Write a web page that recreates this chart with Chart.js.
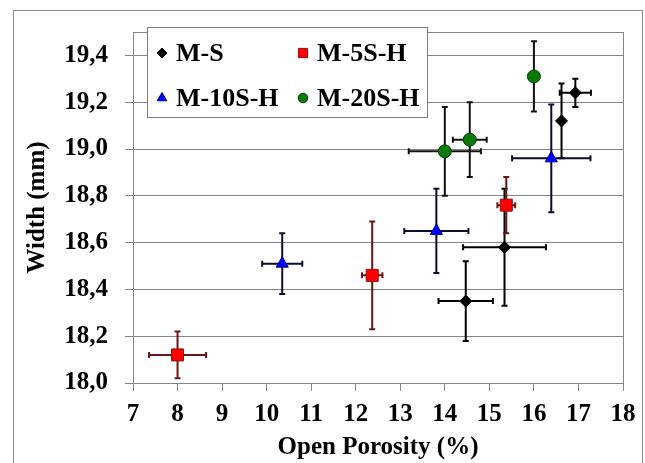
<!DOCTYPE html>
<html>
<head>
<meta charset="utf-8">
<title>Width vs Open Porosity</title>
<script src="https://cdn.jsdelivr.net/npm/chart.js@4/dist/chart.umd.min.js"></script>
<style>
    body { margin: 0; background: #fff; }
    canvas { display: block; }
</style>
</head>
<body>
<canvas id="chart" width="645" height="463"></canvas>
<script>
// Dados
const seriesNames = ['M-S', 'M-5S-H', 'M-10S-H', 'M-20S-H'];

const msPorosity = [14.47, 15.34, 16.62, 16.93];
const msWidth = [18.35, 18.58, 19.12, 19.24];
const msPorosityErr = [0.61, 0.93, 0.04, 0.35];
const msWidthErr = [0.17, 0.25, 0.16, 0.06];

const m5Porosity = [8.0, 12.37, 15.38];
const m5Width = [18.12, 18.46, 18.76];
const m5PorosityErr = [0.64, 0.23, 0.2];
const m5WidthErr = [0.1, 0.23, 0.12];

const m10Porosity = [10.35, 13.81, 16.39];
const m10Width = [18.51, 18.65, 18.96];
const m10PorosityErr = [0.45, 0.72, 0.88];
const m10WidthErr = [0.13, 0.18, 0.23];

const m20Porosity = [14.0, 14.56, 16.0];
const m20Width = [18.99, 19.04, 19.31];
const m20PorosityErr = [0.81, 0.38, 0.0];
const m20WidthErr = [0.19, 0.16, 0.15];

const xTickValues = [7, 8, 9, 10, 11, 12, 13, 14, 15, 16, 17, 18];
const yTickValues = [18.0, 18.2, 18.4, 18.6, 18.8, 19.0, 19.2, 19.4];

const FONT_FAMILY = '"Liberation Serif", "Times New Roman", serif';
const GRID_COLOR = '#858585';

function toPoints(xs, ys) {
    return xs.map((x, i) => ({ x: x, y: ys[i] }));
}

const datasets = [
    {
        label: seriesNames[0],
        data: toPoints(msPorosity, msWidth),
        xErr: msPorosityErr, yErr: msWidthErr, errColor: '#000000',
        pointStyle: 'rectRot', pointRadius: 6,
        backgroundColor: '#000000', borderColor: '#000000', borderWidth: 1
    },
    {
        label: seriesNames[1],
        data: toPoints(m5Porosity, m5Width),
        xErr: m5PorosityErr, yErr: m5WidthErr, errColor: '#6e1414',
        pointStyle: 'rect', pointRadius: 8.5,
        backgroundColor: '#ff0000', borderColor: '#8b1010', borderWidth: 1
    },
    {
        label: seriesNames[2],
        data: toPoints(m10Porosity, m10Width),
        xErr: m10PorosityErr, yErr: m10WidthErr, errColor: '#0c0c2c',
        pointStyle: 'triangle', pointRadius: 7,
        backgroundColor: '#0000ff', borderColor: '#00008b', borderWidth: 1
    },
    {
        label: seriesNames[3],
        data: toPoints(m20Porosity, m20Width),
        xErr: m20PorosityErr, yErr: m20WidthErr, errColor: '#111111',
        pointStyle: 'circle', pointRadius: 6.5,
        backgroundColor: '#0a7a0a', borderColor: '#004000', borderWidth: 1
    }
];

// Barras de erro desenhadas antes dos marcadores
const errorBarsPlugin = {
    id: 'errorBars',
    beforeDatasetsDraw(chart) {
        const ctx = chart.ctx;
        const xs = chart.scales.x;
        const ys = chart.scales.y;
        const cap = 3;
        ctx.save();
        ctx.lineWidth = 2;
        chart.data.datasets.forEach(ds => {
            ctx.strokeStyle = ds.errColor;
            ds.data.forEach((p, i) => {
                const px = xs.getPixelForValue(p.x);
                const py = ys.getPixelForValue(p.y);
                const dx = ds.xErr[i];
                const dy = ds.yErr[i];
                ctx.beginPath();
                if (dx > 0) {
                    const x1 = xs.getPixelForValue(p.x - dx);
                    const x2 = xs.getPixelForValue(p.x + dx);
                    ctx.moveTo(x1, py); ctx.lineTo(x2, py);
                    ctx.moveTo(x1, py - cap); ctx.lineTo(x1, py + cap);
                    ctx.moveTo(x2, py - cap); ctx.lineTo(x2, py + cap);
                }
                if (dy > 0) {
                    const y1 = ys.getPixelForValue(p.y - dy);
                    const y2 = ys.getPixelForValue(p.y + dy);
                    ctx.moveTo(px, y1); ctx.lineTo(px, y2);
                    ctx.moveTo(px - cap, y1); ctx.lineTo(px + cap, y1);
                    ctx.moveTo(px - cap, y2); ctx.lineTo(px + cap, y2);
                }
                ctx.stroke();
            });
        });
        ctx.restore();
    }
};

// Moldura externa, bordas da área do gráfico e legenda
const framePlugin = {
    id: 'frame',
    beforeDraw(chart) {
        const ctx = chart.ctx;
        ctx.save();
        ctx.fillStyle = '#ffffff';
        ctx.fillRect(0, 0, chart.width, chart.height);
        ctx.strokeStyle = '#8a8a8a';
        ctx.lineWidth = 1;
        ctx.strokeRect(13.5, 10.5, 629, 470);
        ctx.restore();
    },
    afterDraw(chart) {
        const ctx = chart.ctx;
        const a = chart.chartArea;
        ctx.save();
        ctx.strokeStyle = GRID_COLOR;
        ctx.lineWidth = 1;
        ctx.beginPath();
        ctx.moveTo(a.left, Math.round(a.top) + 0.5);
        ctx.lineTo(a.right, Math.round(a.top) + 0.5);
        ctx.moveTo(Math.round(a.right) + 0.5, a.top);
        ctx.lineTo(Math.round(a.right) + 0.5, a.bottom);
        ctx.stroke();

        // Legenda
        const box = { x: 147.5, y: 27.5, w: 280, h: 90 };
        ctx.fillStyle = '#ffffff';
        ctx.fillRect(box.x, box.y, box.w, box.h);
        ctx.strokeStyle = '#7a7a7a';
        ctx.strokeRect(box.x, box.y, box.w, box.h);

        const slots = [
            { mx: 162, tx: 176, y: 53 },
            { mx: 303, tx: 317, y: 53 },
            { mx: 162, tx: 176, y: 98 },
            { mx: 303, tx: 317, y: 98 }
        ];
        const legendRadius = { rectRot: 5, rect: 6.5, triangle: 5.5, circle: 4.8 };
        ctx.font = 'bold 26px ' + FONT_FAMILY;
        ctx.textBaseline = 'middle';
        ctx.textAlign = 'left';
        chart.data.datasets.forEach((ds, i) => {
            const s = slots[i];
            ctx.fillStyle = ds.backgroundColor;
            ctx.strokeStyle = ds.borderColor;
            ctx.lineWidth = 1;
            Chart.helpers.drawPoint(ctx, {
                pointStyle: ds.pointStyle,
                radius: legendRadius[ds.pointStyle],
                rotation: 0,
                borderWidth: 1
            }, s.mx, s.y);
            ctx.fillStyle = '#000000';
            ctx.fillText(ds.label, s.tx, s.y + 1);
        });
        ctx.restore();
    }
};

const ctx = document.getElementById('chart').getContext('2d');
window.porosityChart = new Chart(ctx, {
    type: 'scatter',
    data: { datasets: datasets },
    options: {
        responsive: false,
        animation: false,
        layout: { padding: { top: 28, right: 22, left: 0, bottom: 0 } },
        plugins: {
            legend: { display: false },
            tooltip: { enabled: false }
        },
        scales: {
            x: {
                type: 'linear',
                min: 7,
                max: 18,
                afterBuildTicks: function(scale) {
                    scale.ticks = xTickValues.map(v => ({ value: v }));
                },
                afterFit: function(scale) {
                    scale.height = 80;
                },
                ticks: {
                    color: '#000000',
                    font: { family: FONT_FAMILY, size: 25, weight: 'bold' },
                    padding: 9,
                    maxRotation: 0
                },
                grid: {
                    drawOnChartArea: false,
                    drawTicks: true,
                    tickLength: 8,
                    color: GRID_COLOR
                },
                border: { color: GRID_COLOR },
                title: {
                    display: true,
                    text: 'Open Porosity (%)',
                    color: '#000000',
                    font: { family: FONT_FAMILY, size: 25, weight: 'bold' },
                    padding: { top: 0, bottom: 0 }
                }
            },
            y: {
                type: 'linear',
                min: 18,
                max: 19.5,
                afterBuildTicks: function(scale) {
                    scale.ticks = yTickValues.map(v => ({ value: v }));
                },
                afterFit: function(scale) {
                    scale.width = 133;
                },
                ticks: {
                    color: '#000000',
                    font: { family: FONT_FAMILY, size: 25, weight: 'bold' },
                    padding: 17,
                    callback: function(value) {
                        return value.toFixed(1).replace('.', ',');
                    }
                },
                grid: {
                    drawTicks: true,
                    tickLength: 8,
                    color: GRID_COLOR
                },
                border: { color: GRID_COLOR },
                title: {
                    display: true,
                    text: 'Width (mm)',
                    color: '#000000',
                    font: { family: FONT_FAMILY, size: 25, weight: 'bold' },
                    padding: { top: 23, bottom: 0 }
                }
            }
        }
    },
    plugins: [errorBarsPlugin, framePlugin]
});
</script>
</body>
</html>
